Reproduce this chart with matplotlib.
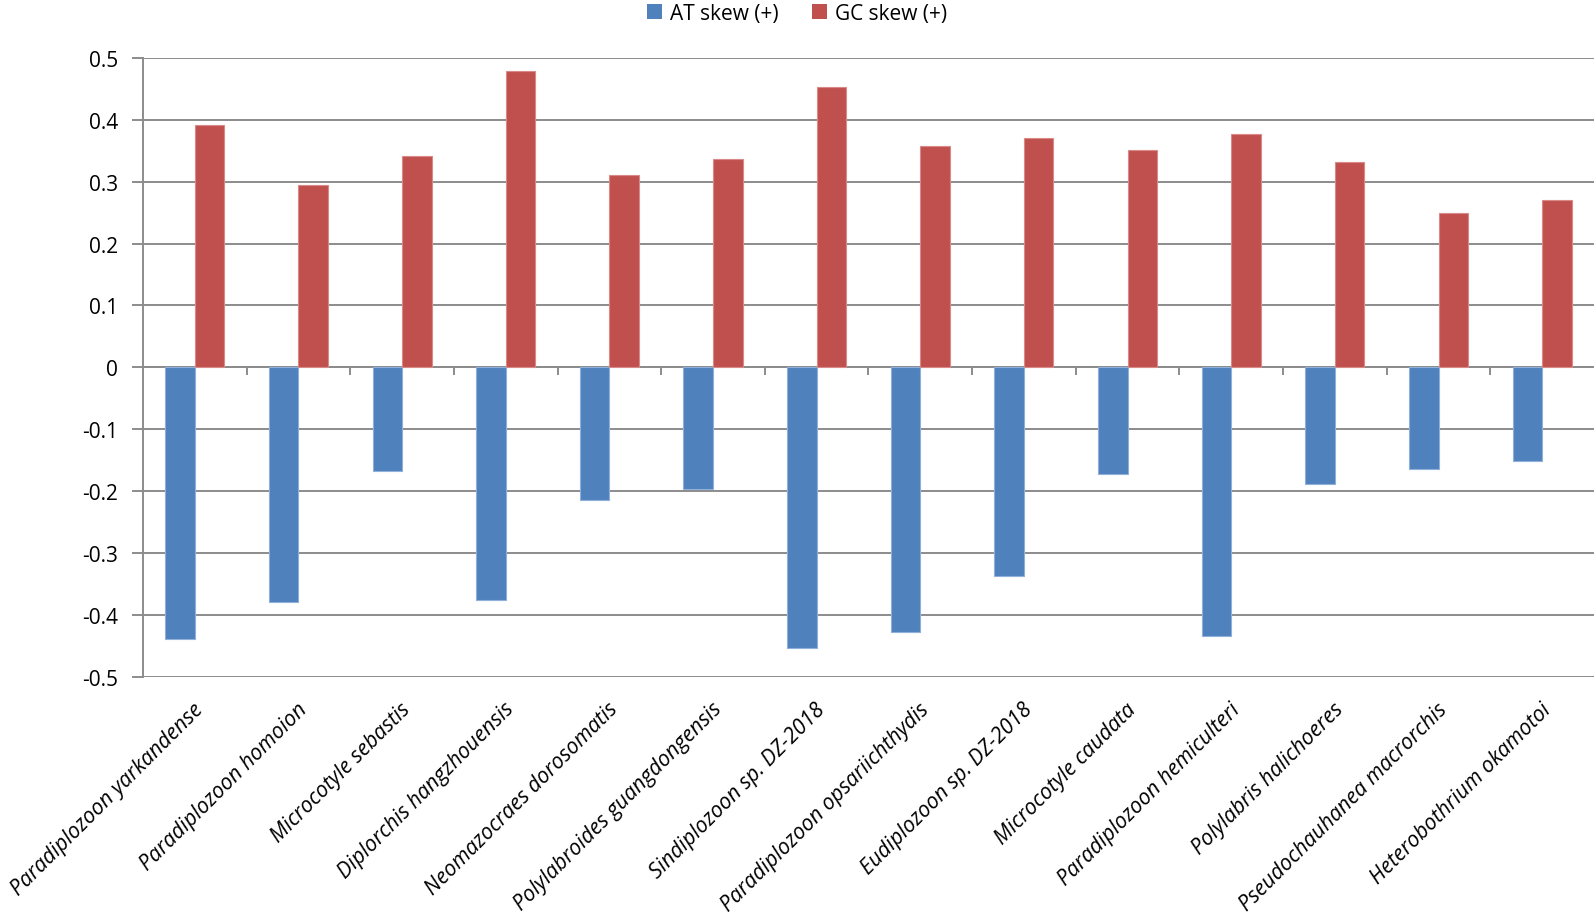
import matplotlib
matplotlib.use("Agg")
import matplotlib.pyplot as plt
import numpy as np
from matplotlib.patches import Patch

species = ["Paradiplozoon yarkandense", "Paradiplozoon homoion", "Microcotyle sebastis",
           "Diplorchis hangzhouensis", "Neomazocraes dorosomatis", "Polylabroides guangdongensis",
           "Sindiplozoon sp. DZ-2018", "Paradiplozoon opsariichthydis", "Eudiplozoon sp. DZ-2018",
           "Microcotyle caudata", "Paradiplozoon hemiculteri", "Polylabris halichoeres",
           "Pseudochauhanea macrorchis", "Heterobothrium okamotoi"]
at_skew = [-0.439, -0.380, -0.167, -0.376, -0.215, -0.197, -0.453, -0.427, -0.338,
           -0.172, -0.434, -0.189, -0.165, -0.152]
gc_skew = [0.392, 0.295, 0.341, 0.479, 0.311, 0.336, 0.453, 0.357, 0.371,
           0.352, 0.377, 0.332, 0.249, 0.271]
yticks = [-0.5, -0.4, -0.3, -0.2, -0.1, 0, 0.1, 0.2, 0.3, 0.4, 0.5]
ytick_labels = ["-0.5", "-0.4", "-0.3", "-0.2", "-0.1", "0", "0.1", "0.2", "0.3", "0.4", "0.5"]

plt.rcParams['font.family'] = ['Open Sans', 'DejaVu Sans']

fig = plt.figure(figsize=(15.94, 9.2), dpi=100)
ax = fig.add_axes([0.0897, 0.2634, 0.9103, 0.6725])

blue = "#4F81BD"
red = "#C0504D"
x = np.arange(len(species))
w = 0.285
ax.bar(x - w, at_skew, width=w, align='edge', color=blue, edgecolor="#8FB0DA", linewidth=0.8,
       zorder=3)
ax.bar(x, gc_skew, width=w, align='edge', color=red, edgecolor="#D98A88", linewidth=0.8,
       zorder=3)

ax.set_xlim(-0.5, len(species) - 0.5)
ax.set_ylim(-0.5, 0.5)
ax.set_yticks(yticks)
ax.set_yticklabels(ytick_labels, fontsize=15)
ax.yaxis.grid(True, color="#8C8C8C", linewidth=1.4, zorder=0)
ax.set_axisbelow(True)

for s in ["top", "right"]:
    ax.spines[s].set_visible(False)
ax.spines["left"].set_color("#8C8C8C")
ax.spines["left"].set_linewidth(1.4)
ax.spines["bottom"].set_position(("data", 0))
ax.spines["bottom"].set_color("#8C8C8C")
ax.spines["bottom"].set_linewidth(1.4)
ax.tick_params(axis='y', length=8, width=1.4, color="#8C8C8C", pad=10)

ax.set_xticks(x)
ax.set_xticklabels([])
ax.tick_params(axis='x', which='major', length=0)
ax.set_xticks(np.arange(0.5, len(species) - 0.5, 1.0), minor=True)
ax.tick_params(axis='x', which='minor', length=6, width=1.4, color="#8C8C8C", direction='out')

trans = matplotlib.transforms.blended_transform_factory(ax.transData, ax.transAxes)
for xi, name in zip(x, species):
    ax.text(xi - 0.02, -0.035, name, transform=trans, rotation=45, rotation_mode='anchor',
            ha='right', va='top', fontsize=15.3, fontstyle='italic')

handles = [Patch(facecolor=blue, label="AT skew (+)"), Patch(facecolor=red, label="GC skew (+)")]
fig.legend(handles=handles, loc='upper center', bbox_to_anchor=(0.5, 1.016), ncol=2,
           frameon=False, fontsize=15, handlelength=0.7, handleheight=0.7,
           handletextpad=0.4, columnspacing=1.6)

fig.savefig("out.png", dpi=100)
